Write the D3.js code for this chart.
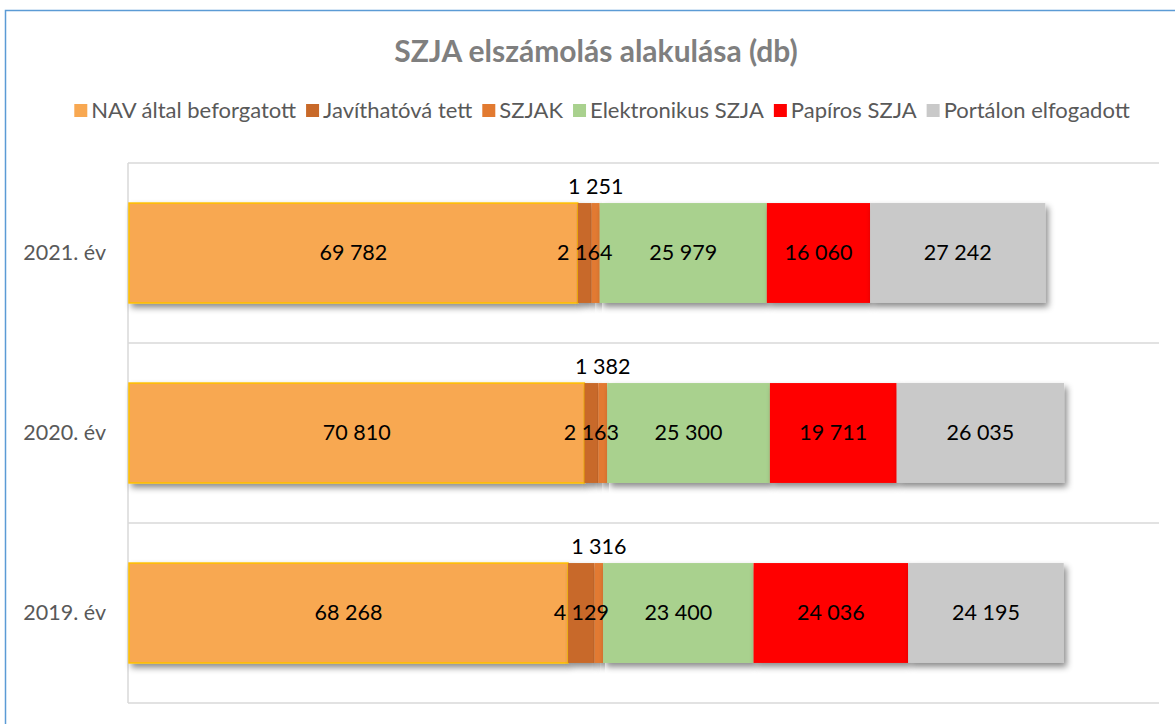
<!DOCTYPE html>
<html>
<head>
<meta charset="utf-8">
<script src="https://cdn.jsdelivr.net/npm/d3@7"></script>
<style>
  body { margin: 0; background: #fff; }
  text { font-family: Lato, "Open Sans", sans-serif; }
</style>
</head>
<body>
<div id="chart"></div>
<script>
var w = 1175,
  h = 724;

// categories (top to bottom)
var years = ["2021. év", "2020. év", "2019. év"]
var seriesNames = ["NAV által beforgatott", "Javíthatóvá tett", "SZJAK", "Elektronikus SZJA", "Papíros SZJA", "Portálon elfogadott"]
var seriesColors = ["#F8A851", "#C86929", "#E27A30", "#A9D18E", "#FF0000", "#C9C9C9"]

// values per series, in the order of years
var navValues = [69782, 70810, 68268]
var javithatoValues = [2164, 2163, 4129]
var szjakValues = [1251, 1382, 1316]
var elektronikusValues = [25979, 25300, 23400]
var papirosValues = [16060, 19711, 24036]
var portalValues = [27242, 26035, 24195]

var seriesValues = [navValues, javithatoValues, szjakValues, elektronikusValues, papirosValues, portalValues]

var plot = {left: 128, right: 1158, top: 163, bottom: 703}

var svg = d3.select("#chart").append("svg")
  .attr("width", w)
  .attr("height", h)

// drop shadow for bars
var defs = svg.append("defs")
var filter = defs.append("filter").attr("id", "shadow")
  .attr("x", "-10%").attr("y", "-10%").attr("width", "130%").attr("height", "140%")
filter.append("feDropShadow")
  .attr("dx", 3).attr("dy", 4)
  .attr("stdDeviation", 3)
  .attr("flood-color", "#000")
  .attr("flood-opacity", 0.45)

// outer chart border
svg.append("rect")
  .attr("x", 5.5).attr("y", 10.5)
  .attr("width", w).attr("height", h)
  .attr("fill", "none")
  .attr("stroke", "#5B9BD5")
  .attr("stroke-width", 1.5)

// title
svg.append("text")
  .attr("x", 596).attr("y", 62)
  .attr("text-anchor", "middle")
  .attr("font-size", "30px")
  .attr("font-weight", "bold")
  .attr("fill", "#7F7F7F")
  .text("SZJA elszámolás alakulása (db)")

var x = d3.scaleLinear()
  .domain([0, 160000])
  .range([plot.left + 1, plot.right])

var y = d3.scaleBand()
  .domain(years)
  .range([plot.top, plot.bottom])
  .padding(0)

var barH = y.bandwidth() * 0.555

// gridlines at category boundaries
var gridYs = years.map(function(d){ return y(d) }).concat([plot.bottom])
svg.append("g").selectAll("line")
  .data(gridYs)
  .enter().append("line")
  .attr("x1", plot.left).attr("x2", plot.right + 1)
  .attr("y1", function(d){ return d }).attr("y2", function(d){ return d })
  .attr("stroke", "#D9D9D9")
  .attr("stroke-width", 1.5)

svg.append("line")
  .attr("x1", plot.left).attr("x2", plot.left)
  .attr("y1", plot.top).attr("y2", plot.bottom)
  .attr("stroke", "#D9D9D9")
  .attr("stroke-width", 1.5)

// stack the data
var rows = years.map(function(yr, i){
  var row = {year: yr}
  seriesNames.forEach(function(s, j){ row[s] = seriesValues[j][i] })
  return row
})
var stack = d3.stack().keys(seriesNames)(rows)

var layers = svg.append("g").selectAll("g.layer")
  .data(stack)
  .enter().append("g")
  .attr("class", "layer")
  .attr("fill", function(d, i){ return seriesColors[i] })

layers.selectAll("rect")
  .data(function(d){ return d })
  .enter().append("rect")
  .attr("x", function(d){ return x(d[0]) })
  .attr("width", function(d){ return x(d[1]) - x(d[0]) })
  .attr("y", function(d){ return y(d.data.year) + (y.bandwidth() - barH) / 2 })
  .attr("height", barH)
  .attr("filter", "url(#shadow)")
  .attr("stroke", function(){ return d3.select(this.parentNode).datum().key === seriesNames[0] ? "#FFC000" : "none" })
  .attr("stroke-width", 1.5)

// data labels
var fmt = function(v){ return d3.format(",")(v).replace(/,/g, " ") }
stack.forEach(function(layer, j){
  svg.append("g").selectAll("text")
    .data(layer)
    .enter().append("text")
    .attr("x", function(d){ return (x(d[0]) + x(d[1])) / 2 })
    .attr("y", function(d){
      var cy = y(d.data.year) + y.bandwidth() / 2
      return j === 2 ? cy - barH / 2 - 9 : cy + 7
    })
    .attr("text-anchor", "middle")
    .attr("font-size", "21.5px")
    .attr("fill", "#000")
    .text(function(d){ return fmt(d[1] - d[0]) })
})

// category axis labels
svg.append("g").selectAll("text")
  .data(years)
  .enter().append("text")
  .attr("x", 106)
  .attr("y", function(d){ return y(d) + y.bandwidth() / 2 + 7 })
  .attr("text-anchor", "end")
  .attr("font-size", "21.5px")
  .attr("fill", "#595959")
  .text(function(d){ return d })

// legend, centered
var legend = svg.append("g").attr("class", "legend")
var items = legend.selectAll("g")
  .data(seriesNames)
  .enter().append("g")
items.append("rect")
  .attr("width", 13).attr("height", 13)
  .attr("y", 104)
  .attr("fill", function(d, i){ return seriesColors[i] })
items.append("text")
  .attr("x", 17)
  .attr("y", 118)
  .attr("font-size", "22px")
  .attr("fill", "#595959")
  .text(function(d){ return d })

var offsets = [], pos = 0
items.each(function(d){
  offsets.push(pos)
  pos += 17 + d3.select(this).select("text").node().getComputedTextLength() + 10
})
var legendW = pos - 10
var start = 602 - legendW / 2
items.attr("transform", function(d, i){ return "translate(" + (start + offsets[i]) + ",0)" })
</script>
</body>
</html>
